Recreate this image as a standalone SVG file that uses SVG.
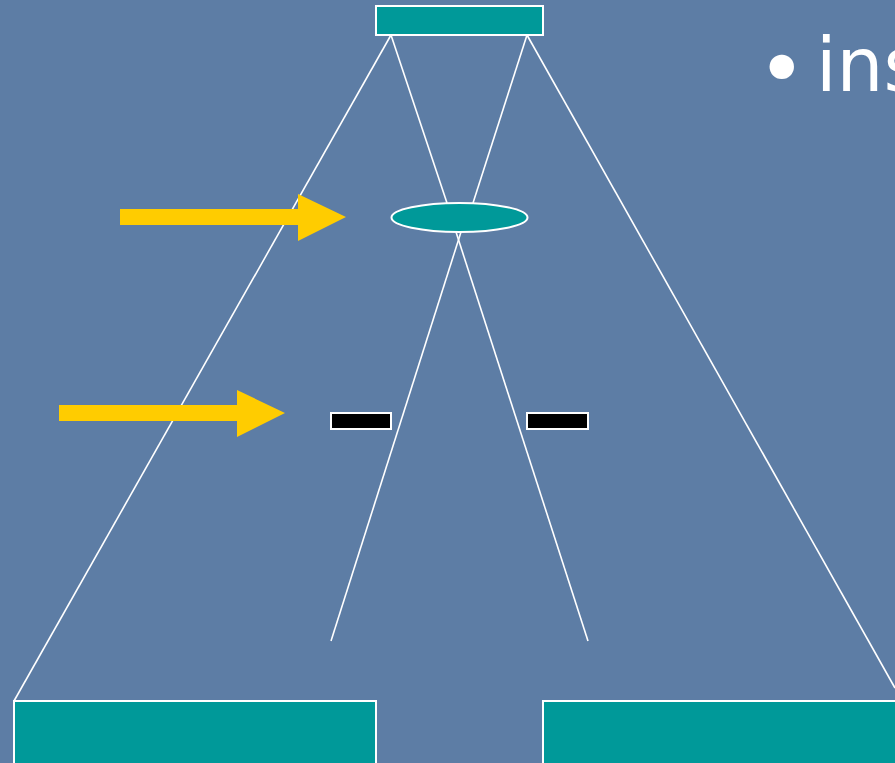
<svg xmlns="http://www.w3.org/2000/svg" width="895" height="763" viewBox="0 0 895 763">
<style>
.node{fill:#009999;stroke:#ffffff;stroke-width:2}
.blk{fill:#000000;stroke:#ffffff;stroke-width:2}
.ln{stroke:#ffffff;stroke-width:1.6;fill:none}
.arrow{fill:#ffcc00}
.txt{fill:#ffffff;font-family:"DejaVu Sans",Verdana,sans-serif}
</style>
<rect x="0" y="0" width="895" height="763" fill="#5d7da5"/>
<g id="connectors">
<line class="ln" x1="391" y1="35" x2="14" y2="701"/>
<line class="ln" x1="391" y1="35" x2="447" y2="203"/>
<line class="ln" x1="527" y1="35" x2="473" y2="203"/>
<line class="ln" x1="527" y1="35" x2="895" y2="688"/>
<line class="ln" x1="461" y1="232" x2="331" y2="641"/>
<line class="ln" x1="456" y1="232" x2="588" y2="641"/>
</g>
<g id="top"><rect class="node" x="376" y="6" width="167" height="29"/></g>
<g id="ellipse"><ellipse class="node" cx="459.5" cy="217.5" rx="68" ry="14.5"/></g>
<g id="blk1"><rect class="blk" x="331" y="413" width="60" height="16"/></g>
<g id="blk2"><rect class="blk" x="527" y="413" width="61" height="16"/></g>
<g id="bottomLeft"><rect class="node" x="14" y="701" width="362" height="70"/></g>
<g id="bottomRight"><rect class="node" x="543" y="701" width="360" height="70"/></g>
<g id="arrow1"><polygon class="arrow" points="120,209 298,209 298,194 346,217 298,241 298,225 120,225"/></g>
<g id="arrow2"><polygon class="arrow" points="59,405 237,405 237,390 285,413 237,437 237,421 59,421"/></g>
<g id="label">
<text class="txt" x="757" y="98" font-size="84">•</text>
<text class="txt" x="816" y="91" font-size="74">ins</text>
</g>
</svg>
